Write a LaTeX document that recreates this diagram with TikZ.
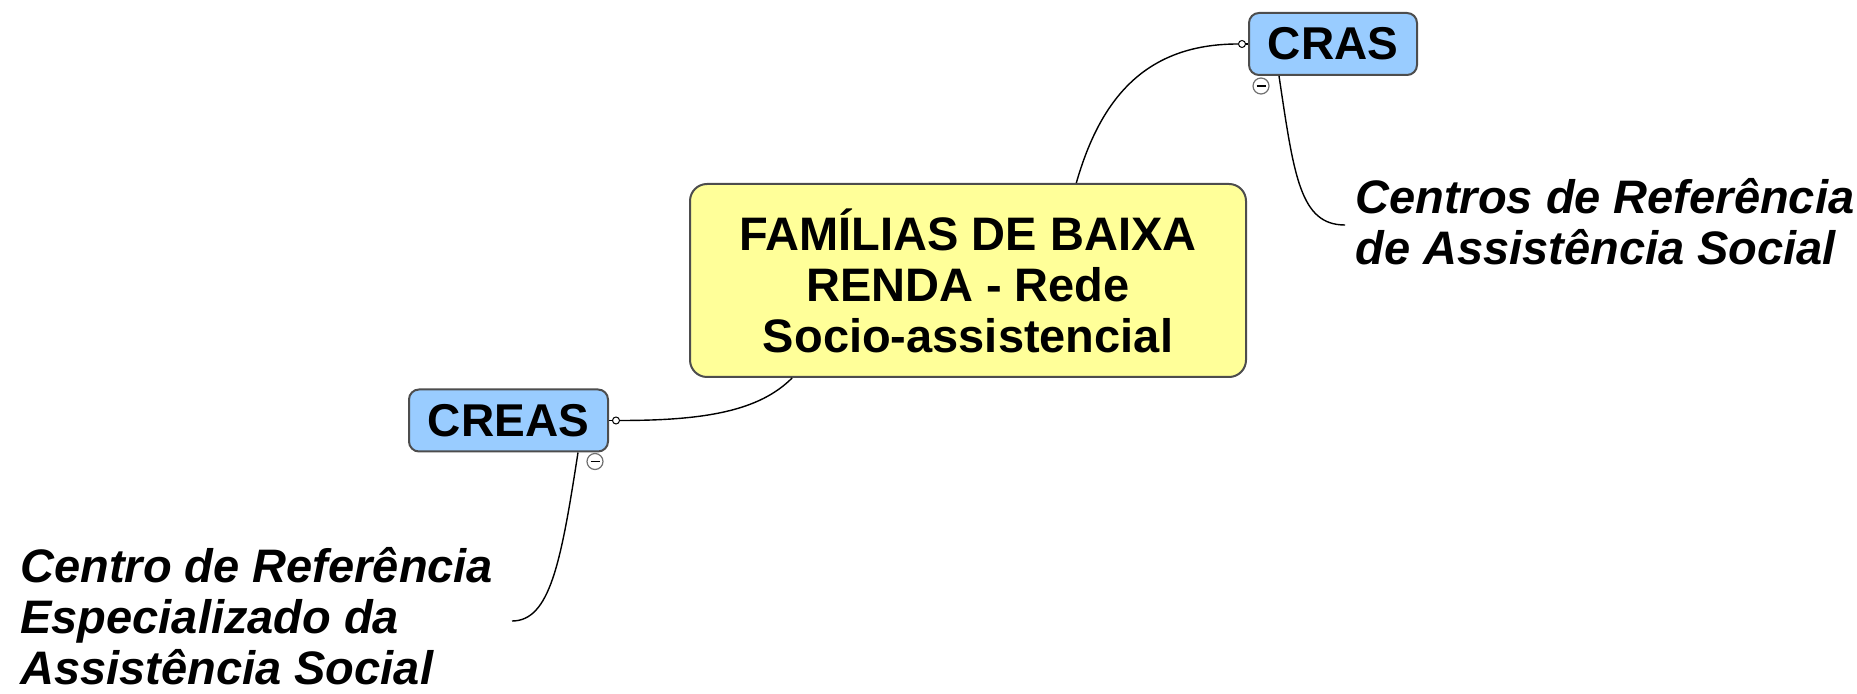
\documentclass[tikz,border=0pt]{standalone}
\usepackage{fontspec}
\setmainfont{Liberation Sans}
\usetikzlibrary{calc}
\definecolor{topicyellow}{HTML}{FFFF99}
\definecolor{topicblue}{HTML}{99CCFF}
\definecolor{edgegray}{HTML}{4D4D4D}
\definecolor{foldgray}{HTML}{707070}
\begin{document}
\begin{tikzpicture}[x=0.5pt,y=-0.5pt,
  central/.style={draw=edgegray, line width=1pt, fill=topicyellow, rounded corners=8.5pt,
    minimum width=278pt, minimum height=96.5pt, align=center,
    font=\fontsize{23.5}{25.5}\selectfont\bfseries, inner sep=0pt},
  topic/.style={draw=edgegray, line width=1pt, fill=topicblue, rounded corners=5pt,
    minimum height=31pt, font=\fontsize{23}{26}\selectfont\bfseries, inner sep=0pt},
  note/.style={align=left, font=\fontsize{23.5}{25.5}\selectfont\bfseries\itshape, inner sep=0pt},
  link/.style={draw=black, line width=0.7pt},
  joint/.style={circle, draw=black, fill=white, line width=0.5pt, minimum size=3.5pt, inner sep=0pt},
  fold/.style={circle, draw=foldgray, fill=white, line width=0.6pt, minimum size=8pt, inner sep=0pt}
]
\useasboundingbox (0,0) rectangle (1857,694);

\node[central] (main) at (968,280.5) {FAMÍLIAS DE BAIXA\\RENDA - Rede\\Socio-assistencial};
\node[topic, minimum width=84pt] (cras) at (1333,44) {CRAS};
\node[topic, minimum width=99.5pt] (creas) at (508.5,420.5) {CREAS};

% anchor base west = baseline of the last line
\node[note, anchor=base west] (crasnote) at (1355,265) {Centros de Referência\\de Assistência Social};
\node[note, anchor=base west] (creasnote) at (20,684) {Centro de Referência\\Especializado da\\Assistência Social};

% joints and fold markers
\node[joint] (crasjoint) at ($(cras.west)+(-6,0)$) {};
\node[joint] (creasjoint) at ($(creas.east)+(7,0)$) {};
\node[fold] (crasfold) at ($(cras.south west)+(13,10)$) {};
\node[fold] (creasfold) at ($(creas.south east)+(-14,9)$) {};
\draw[black, line width=0.8pt] ($(crasfold.center)+(-4.5,0)$) -- ($(crasfold.center)+(4.5,0)$);
\draw[black, line width=0.8pt] ($(creasfold.center)+(-4.5,0)$) -- ($(creasfold.center)+(4.5,0)$);

\coordinate (crasstem) at ($(cras.south west)+(31,0)$);
\coordinate (crasnoteend) at ($(crasnote.base west)+(-10,-40)$);
\coordinate (creasstem) at ($(creas.south east)+(-31,0)$);
\coordinate (creasnoteend) at ($(creasnote.base west)+(492,-63)$);

% connectors
\draw[link] (main.42) .. controls +(24,-84) and +(-93,0) .. (crasjoint.west);
\draw[link] (crasjoint.east) -- (cras.west);
\draw[link] (main.209) .. controls +(-33,33) and +(85,0) .. (creasjoint.east);
\draw[link] (creasjoint.west) -- (creas.east);
\draw[link] (crasstem) .. controls +(15,100) and +(-45,0) .. (crasnoteend);
\draw[link] (creasstem) .. controls +(-17,110) and +(38,0) .. (creasnoteend);
\end{tikzpicture}
\end{document}
